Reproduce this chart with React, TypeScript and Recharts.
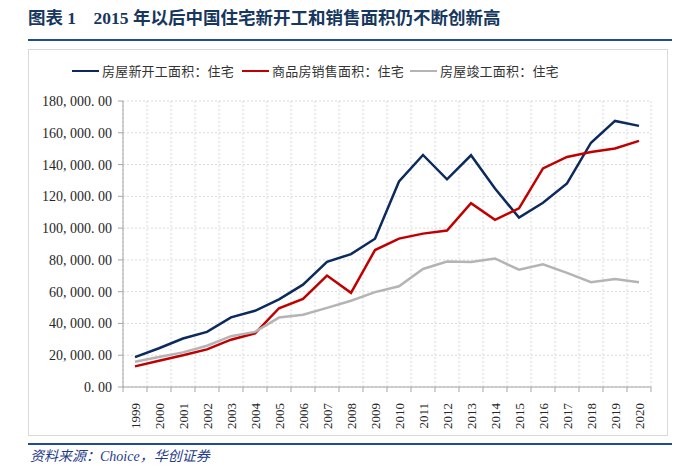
import React from 'react';
import { LineChart, Line, XAxis, YAxis, CartesianGrid } from 'recharts';

const years = [
  1999, 2000, 2001, 2002, 2003, 2004, 2005, 2006, 2007, 2008, 2009,
  2010, 2011, 2012, 2013, 2014, 2015, 2016, 2017, 2018, 2019, 2020,
];

// 房屋新开工面积：住宅 (万平方米)
const newStarts = [
  18797, 24401, 30533, 34719, 43854, 47949, 55185, 64404, 78796, 83642, 93298,
  129359, 146035, 130695, 145845, 124877, 106651, 115911, 128098, 153753, 167463, 164329,
];

// 商品房销售面积：住宅
const sales = [
  12998, 16570, 19939, 23702, 29779, 33820, 49588, 55423, 70136, 59280, 86185,
  93377, 96528, 98468, 115723, 105182, 112412, 137540, 144789, 147929, 150144, 154878,
];

// 房屋竣工面积：住宅
const completions = [
  15900, 18900, 21800, 26000, 32000, 34700, 43700, 45500, 49800, 54300, 59700,
  63400, 74300, 79000, 78700, 80900, 73800, 77200, 71800, 66000, 68000, 65900,
];

const yTicks = [0, 20000, 40000, 60000, 80000, 100000, 120000, 140000, 160000, 180000];

const seriesList = [
  { key: 'newStarts', name: '房屋新开工面积：住宅', color: '#0c2a5e', legendX: 72 },
  { key: 'sales', name: '商品房销售面积：住宅', color: '#c00000', legendX: 242 },
  { key: 'completions', name: '房屋竣工面积：住宅', color: '#b4b4b4', legendX: 410 },
];

const data = years.map((year, i) => ({
  year,
  newStarts: newStarts[i],
  sales: sales[i],
  completions: completions[i],
}));

// year boundaries, so grid and tick marks sit between categories
const xBoundaries = [...years.map((y) => y - 0.5), years[years.length - 1] + 0.5];

const CHART_W = 640;
const CHART_H = 387;
const MARGIN = { top: 52, right: 17, left: 0, bottom: 0 };
const Y_AXIS_W = 95;
const X_AXIS_H = 49;
const PLOT_W = CHART_W - MARGIN.left - MARGIN.right - Y_AXIS_W;
const HALF_BAND = PLOT_W / years.length / 2;

const numFont = '"Liberation Serif", "Noto Sans CJK SC", serif';
const cjkFont = '"Noto Sans CJK SC", "Noto Sans", sans-serif';

const formatY = (v: number) => {
  const s = v.toLocaleString('en-US').replace(/,/g, ', ');
  return `${s}. 00`;
};

const YearTick = (props: any) => {
  const { x, y, payload } = props;
  const value = payload.value as number;
  if (value > years[years.length - 1]) return null;
  const cx = x + HALF_BAND;
  const ty = y + 9;
  return (
    <text
      x={cx}
      y={ty}
      transform={`rotate(-90, ${cx}, ${ty})`}
      textAnchor="end"
      dominantBaseline="central"
      fontSize={13}
      fontFamily={numFont}
      fill="#262626"
    >
      {Math.round(value + 0.5)}
    </text>
  );
};

export default function App() {
  return (
    <div style={{ position: 'relative', width: 697, height: 466, background: '#fff' }}>
      <style>{'body{margin:0}'}</style>

      <div
        style={{
          position: 'absolute',
          left: 28,
          top: 8,
          fontSize: 17.5,
          fontWeight: 'bold',
          color: '#17375e',
          fontFamily: '"Liberation Serif", "Noto Sans CJK SC", serif',
          whiteSpace: 'pre',
          lineHeight: '20px',
        }}
      >
        {'图表 1    2015 年以后中国住宅新开工和销售面积仍不断创新高'}
      </div>
      <div style={{ position: 'absolute', left: 28, top: 39, width: 644, height: 2, background: '#1f4e8c' }} />

      <div
        style={{
          position: 'absolute',
          left: 28,
          top: 49,
          width: CHART_W - 2,
          height: CHART_H - 2,
          border: '1px solid #d9d9d9',
        }}
      />

      {seriesList.map((s) => (
        <div
          key={s.key}
          style={{ position: 'absolute', left: s.legendX, top: 62, display: 'flex', alignItems: 'center' }}
        >
          <div style={{ width: 27, height: 2.5, background: s.color, marginRight: 3 }} />
          <span
            style={{
              fontSize: 13,
              letterSpacing: 0.2,
              fontFamily: cjkFont,
              color: '#333',
              lineHeight: '18px',
              whiteSpace: 'nowrap',
            }}
          >
            {s.name}
          </span>
        </div>
      ))}

      <div style={{ position: 'absolute', left: 28, top: 49 }}>
        <LineChart width={CHART_W} height={CHART_H} data={data} margin={MARGIN}>
          <CartesianGrid stroke="#d9d9d9" strokeDasharray="2 2" />
          <XAxis
            dataKey="year"
            type="number"
            domain={[xBoundaries[0], xBoundaries[xBoundaries.length - 1]]}
            ticks={xBoundaries}
            interval={0}
            height={X_AXIS_H}
            stroke="#a6a6a6"
            tickSize={5}
            tick={<YearTick />}
          />
          <YAxis
            domain={[0, 180000]}
            ticks={yTicks}
            width={Y_AXIS_W}
            stroke="#a6a6a6"
            tickSize={5}
            tickMargin={6}
            tickFormatter={formatY}
            tick={{ fontSize: 14, fontFamily: numFont, fill: '#262626' }}
            interval={0}
          />
          {seriesList.map((s) => (
            <Line
              key={s.key}
              type="linear"
              dataKey={s.key}
              name={s.name}
              stroke={s.color}
              strokeWidth={2.5}
              dot={false}
              isAnimationActive={false}
            />
          ))}
        </LineChart>
      </div>

      <div style={{ position: 'absolute', left: 28, top: 443, width: 644, height: 2, background: '#1f4e8c' }} />
      <div
        style={{
          position: 'absolute',
          left: 30,
          top: 449,
          fontSize: 14,
          fontStyle: 'italic',
          color: '#1f3c88',
          fontFamily: '"Liberation Serif", "Noto Sans CJK SC", serif',
          lineHeight: '16px',
        }}
      >
        资料来源：Choice，华创证券
      </div>
    </div>
  );
}
